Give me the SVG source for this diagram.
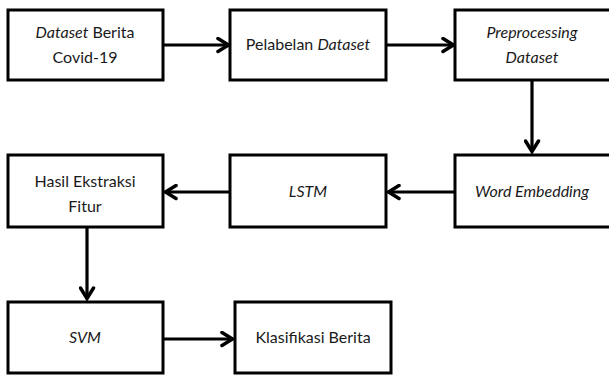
<svg xmlns="http://www.w3.org/2000/svg" width="609" height="378" viewBox="0 0 609 378">
<defs>
<style>
.box{fill:#fff;stroke:#000;stroke-width:3}
.t{font-family:Lato,"Liberation Sans",sans-serif;font-size:16px;fill:#1a1a1a;text-anchor:middle}
.i{font-style:italic}
.c{stroke:#000;stroke-width:3.2;fill:none}
</style>
<marker id="ah" viewBox="0 0 15 17" refX="13" refY="8.5" markerWidth="15" markerHeight="17" markerUnits="userSpaceOnUse" orient="auto">
<path d="M2,2 L12.5,8.5 L2,15" fill="none" stroke="#000" stroke-width="3.5" stroke-linecap="round" stroke-linejoin="miter"/>
</marker>
</defs>
<rect width="609" height="378" fill="#fff"/>
<g id="n1"><rect class="box" x="8" y="10" width="155" height="70"/><text class="t" x="85" y="38"><tspan class="i">Dataset</tspan> Berita</text><text class="t" x="85" y="63">Covid-19</text></g>
<g id="n2"><rect class="box" x="230" y="10" width="156" height="70"/><text class="t" x="308" y="50">Pelabelan <tspan class="i">Dataset</tspan></text></g>
<g id="n3"><rect class="box" x="455" y="10" width="160" height="70"/><text class="t i" x="532" y="38">Preprocessing</text><text class="t i" x="532" y="63">Dataset</text></g>
<g id="n4"><rect class="box" x="455" y="155" width="160" height="72"/><text class="t i" x="532" y="197">Word Embedding</text></g>
<g id="n5"><rect class="box" x="230" y="155" width="156" height="72"/><text class="t i" x="308" y="197">LSTM</text></g>
<g id="n6"><rect class="box" x="8" y="155" width="155" height="72"/><text class="t" x="85" y="187">Hasil Ekstraksi</text><text class="t" x="85" y="212">Fitur</text></g>
<g id="n7"><rect class="box" x="8" y="302" width="155" height="71"/><text class="t i" x="85" y="343">SVM</text></g>
<g id="n8"><rect class="box" x="235" y="302" width="156" height="71"/><text class="t" x="313" y="343">Klasifikasi Berita</text></g>
<g id="connectors">
<line class="c" x1="163" y1="45" x2="229" y2="45" marker-end="url(#ah)"/>
<line class="c" x1="386" y1="45" x2="454" y2="45" marker-end="url(#ah)"/>
<line class="c" x1="532" y1="80" x2="532" y2="152" marker-end="url(#ah)"/>
<line class="c" x1="455" y1="192" x2="388" y2="192" marker-end="url(#ah)"/>
<line class="c" x1="230" y1="192" x2="165" y2="192" marker-end="url(#ah)"/>
<line class="c" x1="87" y1="227" x2="87" y2="299" marker-end="url(#ah)"/>
<line class="c" x1="163" y1="339" x2="233" y2="339" marker-end="url(#ah)"/>
</g>
</svg>
